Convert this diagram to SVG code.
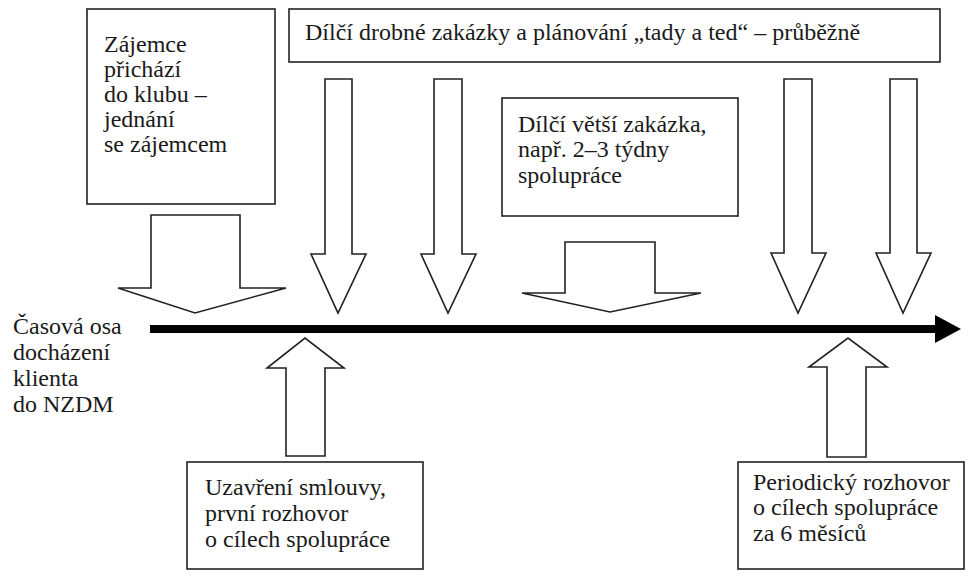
<svg xmlns="http://www.w3.org/2000/svg" width="973" height="579" viewBox="0 0 973 579">
<style>
.box{fill:#fff;stroke:#222;stroke-width:1.6}
.arr{fill:#fff;stroke:#222;stroke-width:1.6;stroke-linejoin:miter}
.t{font-family:'Liberation Serif','Times New Roman',serif;font-size:24px;fill:#1a1a1a}
</style>
<rect width="973" height="579" fill="#fff"/>
<g id="connectors">
<polygon class="arr" points="151,215 240,215 240,288 286,288 195,313 118,288 151,288"/>
<polygon class="arr" points="325,79 352,79 352,254 366,254 338,313 311,254 325,254"/>
<polygon class="arr" points="434,79 462,79 462,254 476,254 448,313 421,254 434,254"/>
<polygon class="arr" points="565,242 655,242 655,293 701,293 610,312 522,293 565,293"/>
<polygon class="arr" points="784,79 812,79 812,253 826,253 798,313 771,253 784,253"/>
<polygon class="arr" points="890,79 917,79 917,253 931,253 903,313 876,253 890,253"/>
<polygon class="arr" points="286,456 325,456 325,368 344,368 305,338 267,368 286,368"/>
<polygon class="arr" points="827,457 866,457 866,367 887,367 848,338 809,367 827,367"/>
<g id="timeline">
<rect x="150" y="325" width="787" height="8" fill="#000"/>
<polygon points="935,315 961,329 935,343" fill="#000"/>
</g>
</g>
<g id="axis-label" class="t">
<text x="13" y="334">Časová osa</text>
<text x="13" y="360">docházení</text>
<text x="13" y="386">klienta</text>
<text x="13" y="412">do NZDM</text>
</g>
<g id="node-zajemce">
<rect class="box" x="87" y="9" width="188" height="195"/>
<g class="t">
<text x="104" y="52">Zájemce</text>
<text x="104" y="77">přichází</text>
<text x="104" y="102">do klubu –</text>
<text x="104" y="127">jednání</text>
<text x="104" y="152">se zájemcem</text>
</g>
</g>
<g id="node-drobne">
<rect class="box" x="289" y="9" width="651" height="53"/>
<text class="t" x="305" y="40">Dílčí drobné zakázky a plánování „tady a ted“ – průběžně</text>
</g>
<g id="node-vetsi">
<rect class="box" x="502" y="98" width="236" height="118"/>
<g class="t">
<text x="518" y="132">Dílčí větší zakázka,</text>
<text x="518" y="157">např. 2–3 týdny</text>
<text x="518" y="183">spolupráce</text>
</g>
</g>
<g id="node-smlouva">
<rect class="box" x="187" y="462" width="236" height="107"/>
<g class="t">
<text x="205" y="495">Uzavření smlouvy,</text>
<text x="205" y="521">první rozhovor</text>
<text x="205" y="547">o cílech spolupráce</text>
</g>
</g>
<g id="node-periodicky">
<rect class="box" x="738" y="462" width="226" height="107"/>
<g class="t">
<text x="753" y="490">Periodický rozhovor</text>
<text x="753" y="515">o cílech spolupráce</text>
<text x="753" y="541">za 6 měsíců</text>
</g>
</g>
</svg>
